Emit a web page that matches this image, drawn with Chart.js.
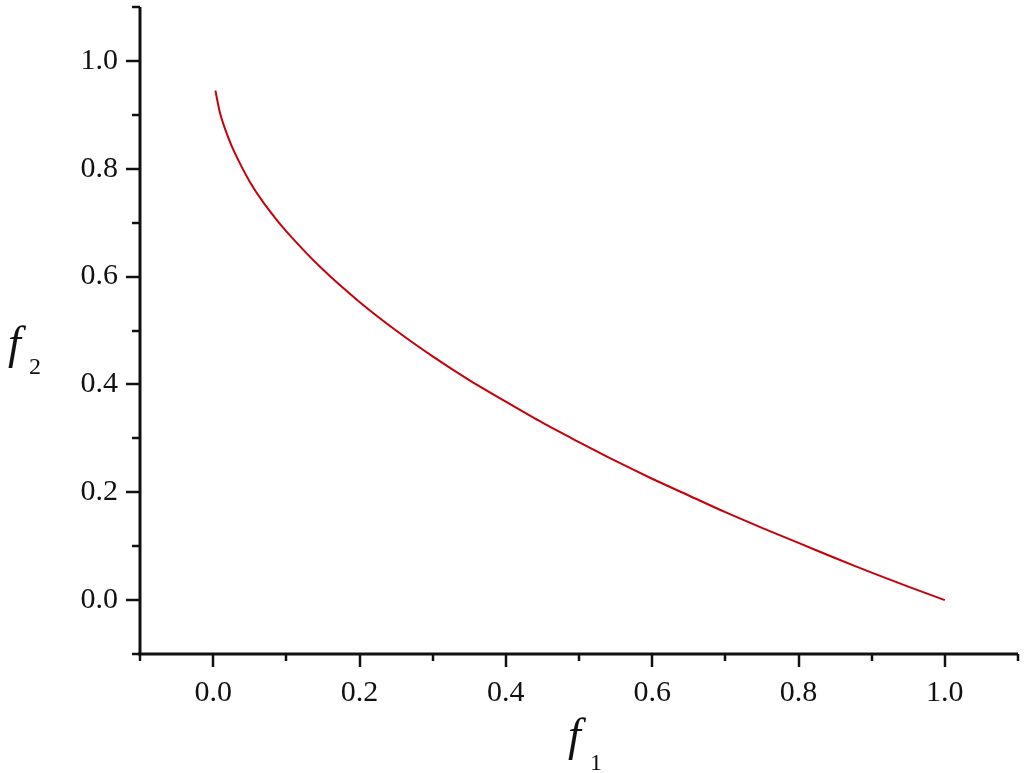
<!DOCTYPE html>
<html>
<head>
<meta charset="utf-8">
<script src="https://cdn.jsdelivr.net/npm/chart.js@4"></script>
<style>
    html, body { margin: 0; padding: 0; background: #fff; }
    #wrap { width: 1028px; height: 773px; }
</style>
</head>
<body>
<div id="wrap"><canvas id="myChart" width="1028" height="773"></canvas></div>
<script>
// Pareto front
const f1Values = [0.003, 0.01, 0.02, 0.03, 0.05, 0.07, 0.1, 0.15, 0.2, 0.25, 0.3, 0.35, 0.4, 0.45, 0.5, 0.55, 0.6, 0.65, 0.7, 0.75, 0.8, 0.85, 0.9, 0.95, 1.0];
const f2Values = [0.945, 0.9, 0.86, 0.828, 0.776, 0.735, 0.684, 0.613, 0.553, 0.5, 0.452, 0.408, 0.368, 0.329, 0.293, 0.258, 0.225, 0.194, 0.163, 0.134, 0.106, 0.078, 0.051, 0.025, 0.0];
const tickLabels = ['0.0', '0.2', '0.4', '0.6', '0.8', '1.0'];
const axisMin = -0.1;
const axisMax = 1.1;

const points = f1Values.map((x, i) => ({ x, y: f2Values[i] }));
const FONT = '"Liberation Serif", "Times New Roman", serif';

const isMajor = v => v > -0.05 && tickLabels.includes(v.toFixed(1));

// axis lines + outward ticks (major long, minor short) and the italic axis titles
const axesPlugin = {
    id: 'axesPlugin',
    afterDraw(chart) {
        const { ctx, chartArea, scales } = chart;
        const xs = scales.x, ys = scales.y;
        ctx.save();
        ctx.strokeStyle = '#111';
        ctx.lineWidth = 3;
        ctx.beginPath();
        ctx.moveTo(chartArea.left, chartArea.top);
        ctx.lineTo(chartArea.left, chartArea.bottom);
        ctx.moveTo(chartArea.left - 2, chartArea.bottom);
        ctx.lineTo(chartArea.right, chartArea.bottom);
        ctx.stroke();

        ctx.lineWidth = 2.5;
        xs.ticks.forEach(t => {
            const px = Math.round(xs.getPixelForValue(t.value));
            const len = isMajor(t.value) ? 13 : 7;
            ctx.beginPath();
            ctx.moveTo(px, chartArea.bottom);
            ctx.lineTo(px, chartArea.bottom + len);
            ctx.stroke();
        });
        ys.ticks.forEach(t => {
            const py = Math.round(ys.getPixelForValue(t.value));
            const len = isMajor(t.value) ? 14 : 8;
            ctx.beginPath();
            ctx.moveTo(chartArea.left, py);
            ctx.lineTo(chartArea.left - len, py);
            ctx.stroke();
        });

        ctx.fillStyle = '#111';
        ctx.textBaseline = 'alphabetic';
        ctx.textAlign = 'left';
        // x title
        ctx.font = 'italic 46px "Liberation Serif"';
        ctx.fillText('f', 568, 750);
        ctx.font = '24px "Liberation Serif"';
        ctx.fillText('1', 590, 770);
        // y title
        ctx.font = 'italic 46px "Liberation Serif"';
        ctx.fillText('f', 8, 358);
        ctx.font = '24px "Liberation Serif"';
        ctx.fillText('2', 29, 374);
        ctx.restore();
    }
};

new Chart(document.getElementById('myChart').getContext('2d'), {
    type: 'line',
    data: {
        datasets: [{
            data: points,
            borderColor: '#c8000a',
            borderWidth: 2,
            pointRadius: 0,
            tension: 0.3,
            fill: false
        }]
    },
    options: {
        responsive: false,
        animation: false,
        layout: { padding: { top: 7, right: 10, left: 0, bottom: 0 } },
        plugins: { legend: { display: false }, tooltip: { enabled: false } },
        scales: {
            x: {
                type: 'linear',
                min: axisMin,
                max: axisMax,
                border: { display: false },
                grid: { display: false, drawTicks: false },
                ticks: {
                    stepSize: 0.1,
                    padding: 21,
                    color: '#111',
                    font: { family: FONT, size: 30 },
                    autoSkip: false,
                    maxRotation: 0,
                    callback: v => isMajor(v) ? v.toFixed(1) : ''
                },
                afterFit: scale => {
                    scale.height = 119;
                    scale.paddingLeft = 0;
                    scale.paddingRight = 0;
                }
            },
            y: {
                type: 'linear',
                min: axisMin,
                max: axisMax,
                border: { display: false },
                grid: { display: false, drawTicks: false },
                ticks: {
                    stepSize: 0.1,
                    padding: 22,
                    color: '#111',
                    font: { family: FONT, size: 30 },
                    autoSkip: false,
                    callback: v => isMajor(v) ? v.toFixed(1) : ''
                },
                afterFit: scale => {
                    scale.width = 140;
                    scale.paddingTop = 0;
                    scale.paddingBottom = 0;
                }
            }
        }
    },
    plugins: [axesPlugin]
});
</script>
</body>
</html>
